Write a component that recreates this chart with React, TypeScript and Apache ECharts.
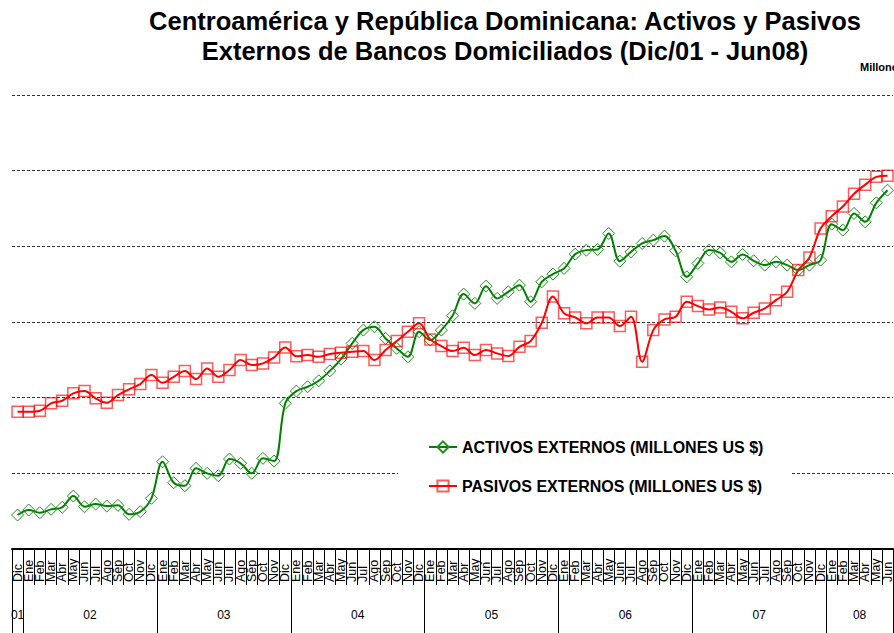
import React, { useEffect, useRef } from "react";
import * as echarts from "echarts";

const MONTH_NAMES = ["Ene", "Feb", "Mar", "Abr", "May", "Jun", "Jul", "Ago", "Sep", "Oct", "Nov", "Dic"];
const YEARS = ["01", "02", "03", "04", "05", "06", "07", "08"];

// categories: Dic/01 .. Jun/08
const months: string[] = [];
const monthYear: string[] = [];
months.push("Dic");
monthYear.push("01");
for (let y = 1; y < YEARS.length; y++) {
  const last = y === YEARS.length - 1 ? 6 : 12;
  for (let m = 0; m < last; m++) {
    months.push(MONTH_NAMES[m]);
    monthYear.push(YEARS[y]);
  }
}

// index of the category that carries each year label
const yearLabelIndex = [0, 6, 18, 30, 42, 54, 66, 75];

const activos = [
  449, 515, 480, 524, 551, 700, 559, 594, 568, 577, 458, 493, 670,
  1153, 876, 836, 1066, 1000, 968, 1189, 1132, 1000, 1198, 1162, 1925,
  2087, 2144, 2223, 2355, 2510, 2717, 2893, 2937, 2783, 2651, 2540, 2871,
  2761, 2893, 3082, 3369, 3246, 3474, 3312, 3399, 3487, 3267, 3531, 3633,
  3708, 3897, 3950, 3959, 4170, 3804, 3927, 4038, 4082, 4135, 3941, 3597,
  3774, 3950, 3914, 3795, 3893, 3809, 3752, 3795, 3752, 3686, 3752, 3818,
  4293, 4214, 4435, 4324, 4575, 4742,
];

const pasivos = [
  1814, 1814, 1827, 1925, 1959, 2057, 2087, 1991, 1933, 2034, 2110, 2180, 2299,
  2197, 2276, 2351, 2246, 2387, 2276, 2365, 2497, 2431, 2453, 2532, 2662,
  2546, 2563, 2540, 2576, 2593, 2606, 2616, 2497, 2629, 2748, 2871, 2982,
  2770, 2682, 2616, 2659, 2563, 2629, 2585, 2550, 2672, 2748, 2989, 3338,
  3114, 3061, 2982, 3061, 3061, 2946, 3069, 2474, 2893, 3034, 3069, 3267,
  3210, 3166, 3193, 3135, 3048, 3122, 3180, 3289, 3399, 3686, 3853, 4236,
  4399, 4527, 4694, 4815, 4918, 4934,
];

const FONT = "'Liberation Sans', Arial, Helvetica, sans-serif";

export default function App() {
  const ref = useRef<HTMLDivElement>(null);
  useEffect(() => {
    if (!ref.current) return;
    const chart = echarts.init(ref.current, undefined, { renderer: "svg" });
    chart.setOption({
      animation: false,
      backgroundColor: "#fff",
      title: {
        text: "Centroamérica y República Dominicana: Activos y Pasivos\nExternos de Bancos Domiciliados (Dic/01 - Jun08)",
        left: 500,
        top: 1,
        textAlign: "center",
        textStyle: { fontFamily: FONT, fontSize: 25.5, fontWeight: "bold", color: "#000", lineHeight: 30 },
      },
      graphic: [
        {
          type: "text",
          left: 860,
          top: 61,
          style: { text: "Millones de US$", fontFamily: FONT, fontSize: 11, fontWeight: "bold", fill: "#000" },
        },
      ],
      legend: {
        orient: "vertical",
        left: 398,
        top: 431,
        padding: [8, 28, 8, 30],
        backgroundColor: "#fff",
        itemWidth: 28,
        itemHeight: 14,
        itemGap: 23,
        textStyle: { fontFamily: FONT, fontSize: 16, fontWeight: "bold", color: "#000", lineHeight: 16 },
        data: ["ACTIVOS EXTERNOS (MILLONES US $)", "PASIVOS EXTERNOS (MILLONES US $)"],
      },
      grid: { left: 12, right: 0, top: 95, bottom: 84, containLabel: false },
      xAxis: [
        {
          type: "category",
          data: months,
          boundaryGap: true,
          position: "bottom",
          axisLine: { show: true, lineStyle: { color: "#000", width: 2 } },
          axisTick: { show: true, interval: 0, length: 36, lineStyle: { color: "#000", width: 1 } },
          axisLabel: {
            interval: 0,
            rotate: 90,
            margin: 33,
            align: "left",
            fontFamily: FONT,
            fontSize: 12.5,
            color: "#000",
          },
          splitLine: { show: false },
        },
        {
          type: "category",
          data: months,
          boundaryGap: true,
          position: "bottom",
          axisLine: { show: false },
          axisTick: {
            show: true,
            length: 90,
            interval: (index: number) => index === 0 || months[index] === "Ene",
            lineStyle: { color: "#000", width: 1 },
          },
          axisLabel: {
            interval: (index: number) => yearLabelIndex.indexOf(index) >= 0,
            margin: 60,
            fontFamily: FONT,
            fontSize: 12,
            color: "#000",
            formatter: (_v: string, index: number) =>
              index === 0 ? "{n|" + monthYear[index] + "}" : "{s|" + monthYear[index] + "}",
            rich: {
              n: { fontFamily: FONT, fontSize: 12, color: "#000" },
              s: { fontFamily: FONT, fontSize: 12, color: "#000", padding: [0, 0, 0, 11] },
            },
          },
          splitLine: { show: false },
        },
      ],
      yAxis: {
        type: "value",
        min: 0,
        max: 6000,
        interval: 1000,
        axisLabel: { show: false },
        axisLine: { show: false },
        axisTick: { show: false },
        splitLine: { show: true, lineStyle: { color: "#333", width: 1, type: [3, 2] } },
      },
      series: [
        {
          name: "ACTIVOS EXTERNOS (MILLONES US $)",
          type: "line",
          data: activos,
          smooth: 0.35,
          symbol: "diamond",
          symbolSize: 12,
          showAllSymbol: true,
          lineStyle: { color: "#008000", width: 2 },
          itemStyle: { color: "rgba(0,0,0,0)", borderColor: "#1f8f1f", borderWidth: 1 },
          color: "#008000",
        },
        {
          name: "PASIVOS EXTERNOS (MILLONES US $)",
          type: "line",
          data: pasivos,
          smooth: 0.35,
          symbol: "rect",
          symbolSize: 11,
          showAllSymbol: true,
          lineStyle: { color: "#ff0000", width: 2 },
          itemStyle: { color: "rgba(0,0,0,0)", borderColor: "rgba(255,0,0,0.65)", borderWidth: 1.5 },
          color: "#ff0000",
        },
      ],
    });
    return () => chart.dispose();
  }, []);
  return (
    <div
      ref={ref}
      style={{ position: "fixed", left: 0, top: 0, width: 894, height: 633, background: "#fff" }}
    />
  );
}
